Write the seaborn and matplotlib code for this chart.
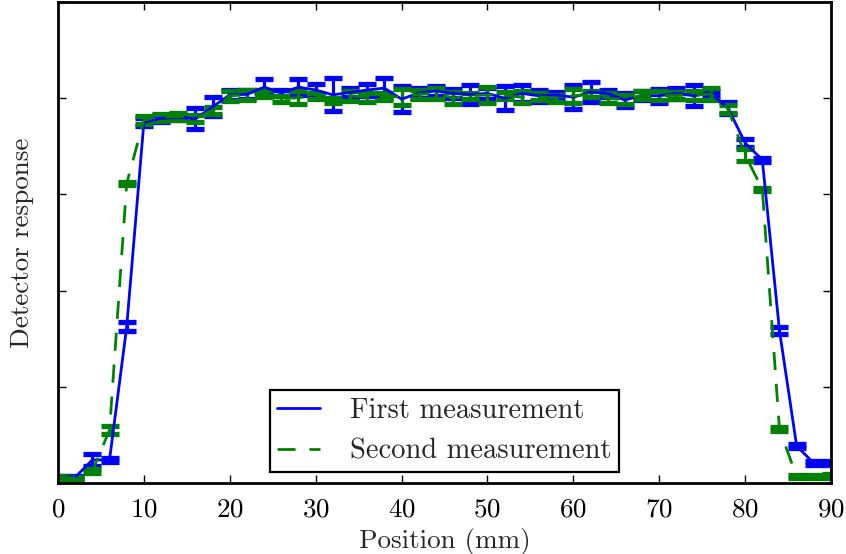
import numpy as np
import pandas as pd
import matplotlib
matplotlib.use("Agg")
import matplotlib.pyplot as plt
import seaborn as sns

# ---- data ----
position = list(range(0, 91, 2))

first = [0.012, 0.012, 0.048, 0.048, 0.325, 0.750, 0.758, 0.760, 0.757, 0.782,
         0.807, 0.808, 0.823, 0.811, 0.823, 0.817, 0.807, 0.812, 0.817, 0.821,
         0.798, 0.811, 0.815, 0.810, 0.808, 0.810, 0.800, 0.810, 0.805, 0.807,
         0.802, 0.813, 0.810, 0.796, 0.806, 0.805, 0.810, 0.805, 0.810, 0.780,
         0.707, 0.672, 0.317, 0.077, 0.041, 0.041]
first_err = [0.003, 0.003, 0.012, 0.004, 0.010, 0.008, 0.008, 0.006, 0.022, 0.020,
             0.010, 0.010, 0.017, 0.006, 0.017, 0.012, 0.034, 0.010, 0.012, 0.020,
             0.027, 0.010, 0.010, 0.010, 0.020, 0.012, 0.025, 0.018, 0.012, 0.006,
             0.025, 0.021, 0.008, 0.015, 0.010, 0.015, 0.012, 0.022, 0.006, 0.012,
             0.008, 0.004, 0.008, 0.005, 0.004, 0.004]

second = [0.012, 0.010, 0.025, 0.110, 0.623, 0.755, 0.760, 0.762, 0.758, 0.775,
          0.805, 0.807, 0.810, 0.799, 0.801, 0.805, 0.796, 0.805, 0.802, 0.803,
          0.803, 0.808, 0.810, 0.800, 0.805, 0.807, 0.806, 0.802, 0.803, 0.800,
          0.805, 0.808, 0.800, 0.797, 0.806, 0.805, 0.806, 0.806, 0.809, 0.778,
          0.682, 0.611, 0.112, 0.013, 0.013, 0.015]
second_err = [0.003, 0.003, 0.004, 0.008, 0.003, 0.008, 0.007, 0.007, 0.007, 0.007,
              0.010, 0.010, 0.008, 0.006, 0.013, 0.006, 0.005, 0.010, 0.009, 0.007,
              0.017, 0.010, 0.012, 0.012, 0.006, 0.017, 0.007, 0.012, 0.007, 0.007,
              0.014, 0.006, 0.010, 0.010, 0.008, 0.009, 0.007, 0.009, 0.013, 0.008,
              0.012, 0.003, 0.004, 0.003, 0.003, 0.004]

labels = ["First measurement", "Second measurement"]
xticks = [0, 10, 20, 30, 40, 50, 60, 70, 80, 90]
yticks = [0.0, 0.2, 0.4, 0.6, 0.8, 1.0]

# ---- style ----
sns.set_style("ticks")
plt.rcParams["font.family"] = ["cmr10", "DejaVu Serif"]
plt.rcParams["mathtext.fontset"] = "cm"
plt.rcParams["axes.formatter.use_mathtext"] = True
plt.rcParams["lines.scale_dashes"] = False

FS = 19.5
LFS = 20.5
blue = (0.0, 0.0, 1.0)
green = (0.0, 0.5, 0.0)

fig = plt.figure(figsize=(8.46, 5.54), dpi=100)
ax = fig.add_axes([58 / 846, 71 / 554, 773 / 846, 481 / 554])

eb_kw = dict(fmt="none", elinewidth=2.3, capsize=6.5, capthick=3.8, zorder=2)
ax.errorbar(position, first, yerr=first_err, ecolor=blue, **eb_kw)
ax.errorbar(position, second, yerr=second_err, ecolor=green, **eb_kw)

df1 = pd.DataFrame({"x": position, "y": first})
df2 = pd.DataFrame({"x": position, "y": second})
sns.lineplot(data=df1, x="x", y="y", color=blue, linewidth=2.0,
             label=labels[0], ax=ax, zorder=2.1)
sns.lineplot(data=df2, x="x", y="y", color=green, linewidth=2.0,
             linestyle=(0, (13, 10)), label=labels[1], ax=ax, zorder=2.1)

ax.set_xlim(0, 90)
ax.set_ylim(0, 1.0)
ax.set_xticks(xticks)
ax.set_yticks(yticks)
ax.set_yticklabels([])
ax.tick_params(direction="in", length=6, width=1, top=True, right=True,
               labelsize=FS, pad=10.5, colors="black")
for s in ax.spines.values():
    s.set_linewidth(2.0)
    s.set_color("black")
ax.set_xlabel("Position (mm)", fontsize=FS, labelpad=4.5)
ax.set_ylabel("Detector response", fontsize=FS, labelpad=7)

leg = ax.legend(loc="lower center", fontsize=LFS, fancybox=False,
                framealpha=1, edgecolor="black", handlelength=1.5,
                handletextpad=1.05, borderpad=0.25, borderaxespad=0.4,
                labelspacing=0.5)
leg.get_frame().set_linewidth(1.6)

fig.savefig("out.png", dpi=100)
